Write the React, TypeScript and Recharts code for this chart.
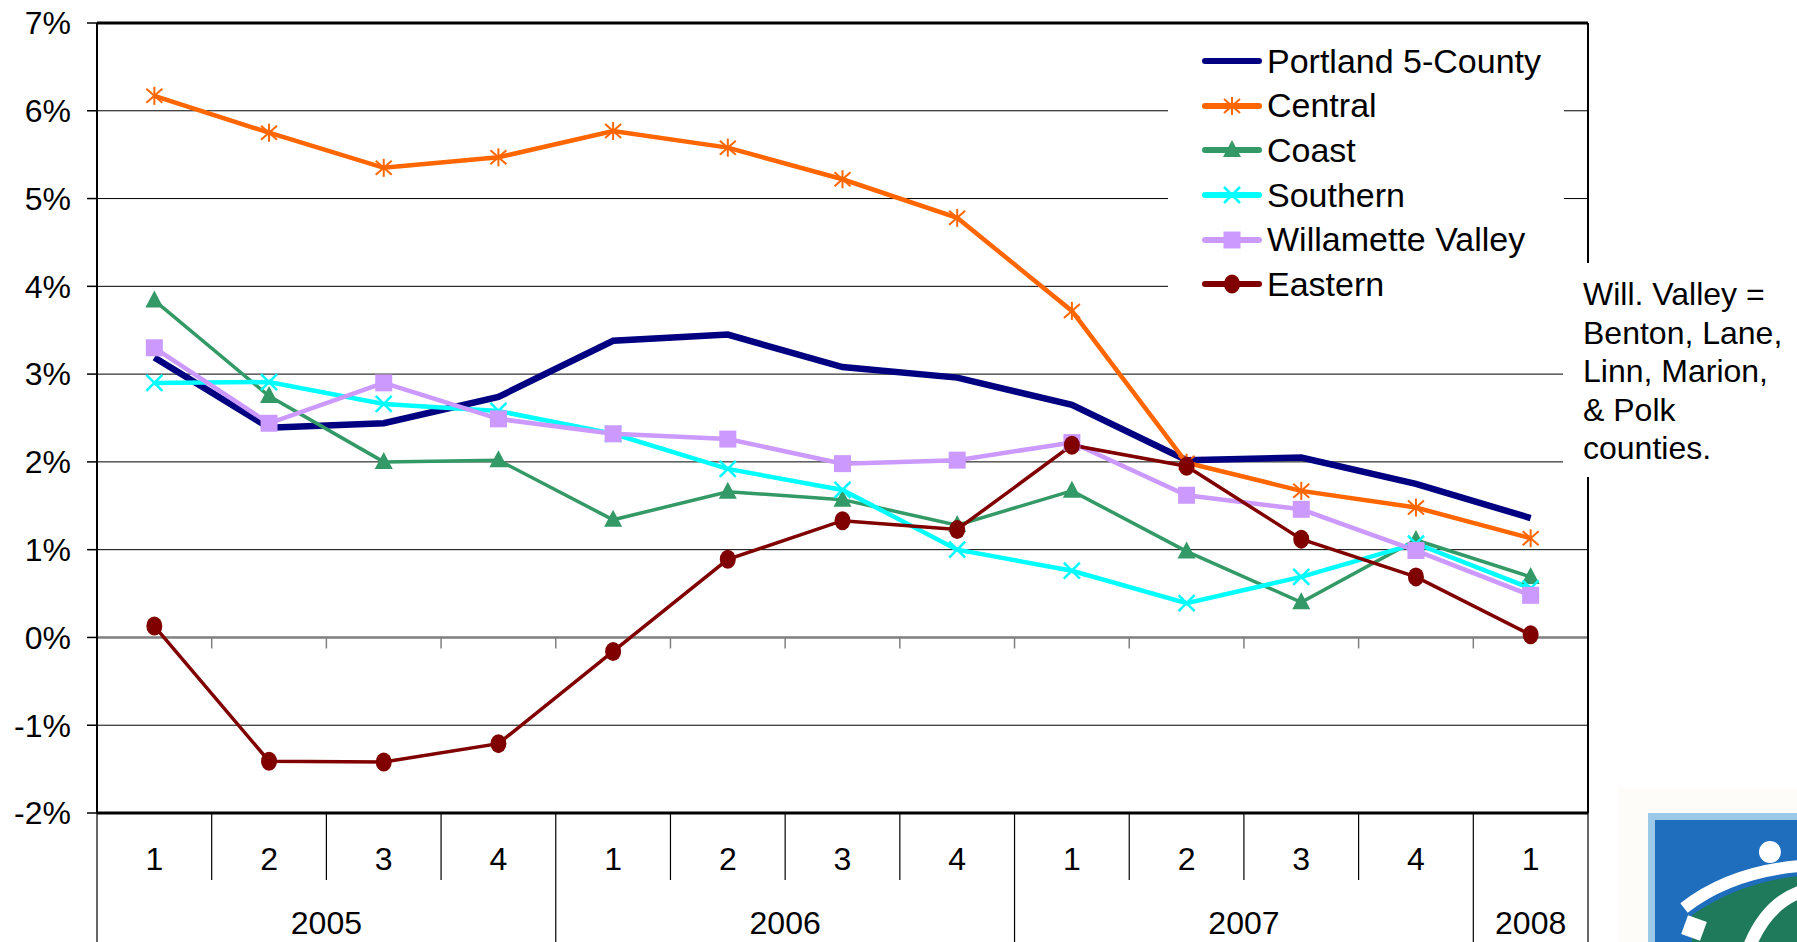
import React from 'react'
import {
  LineChart,
  Line,
  XAxis,
  YAxis,
  CartesianGrid,
  ReferenceLine,
  Legend,
} from 'recharts'

// quarters along the bottom, grouped under years
const QUARTERS = ['1', '2', '3', '4', '1', '2', '3', '4', '1', '2', '3', '4', '1']
const YEARS = ['2005', '2006', '2007', '2008']
const YEAR_SPANS = [4, 4, 4, 1]
const Y_TICKS = [-2, -1, 0, 1, 2, 3, 4, 5, 6, 7]

// year-over-year job growth, percent
const PORTLAND = [3.19, 2.39, 2.44, 2.74, 3.38, 3.45, 3.08, 2.96, 2.65, 2.02, 2.05, 1.75, 1.36]
const CENTRAL = [6.17, 5.75, 5.35, 5.47, 5.77, 5.58, 5.22, 4.78, 3.72, 1.99, 1.67, 1.48, 1.13]
const COAST = [3.84, 2.75, 2.0, 2.02, 1.34, 1.66, 1.57, 1.28, 1.67, 0.98, 0.4, 1.11, 0.69]
const SOUTHERN = [2.9, 2.91, 2.66, 2.58, 2.32, 1.92, 1.68, 1.0, 0.76, 0.39, 0.69, 1.07, 0.56]
const WILLAMETTE = [3.3, 2.44, 2.9, 2.49, 2.32, 2.26, 1.98, 2.02, 2.22, 1.62, 1.46, 0.99, 0.48]
const EASTERN = [0.13, -1.41, -1.42, -1.21, -0.16, 0.89, 1.33, 1.23, 2.19, 1.95, 1.12, 0.69, 0.03]

const FONT = "'Liberation Sans', Arial, sans-serif"
const W = 1797
const H = 942
const PLOT_LEFT = 97
const PLOT_RIGHT = 1588
const PLOT_TOP = 23
const AXIS_H = 129
const BAND = (PLOT_RIGHT - PLOT_LEFT) / QUARTERS.length

const yearOf: string[] = []
const YEAR_STARTS: number[] = []
YEARS.forEach((y, k) => {
  YEAR_STARTS.push(yearOf.length)
  for (let j = 0; j < YEAR_SPANS[k]; j++) yearOf.push(y)
})

const ids = QUARTERS.map((q, i) => `${yearOf[i]} Q${q}`)

const data = ids.map((id, i) => ({
  id,
  portland: PORTLAND[i],
  central: CENTRAL[i],
  coast: COAST[i],
  southern: SOUTHERN[i],
  willamette: WILLAMETTE[i],
  eastern: EASTERN[i],
}))

type Kind = 'none' | 'star' | 'triangle' | 'x' | 'square' | 'circle'

const SERIES: { key: string; name: string; color: string; width: number; marker: Kind }[] = [
  { key: 'portland', name: 'Portland 5-County', color: '#000080', width: 6.5, marker: 'none' },
  { key: 'central', name: 'Central', color: '#FF6600', width: 4.5, marker: 'star' },
  { key: 'coast', name: 'Coast', color: '#339966', width: 3.5, marker: 'triangle' },
  { key: 'southern', name: 'Southern', color: '#00FFFF', width: 4.5, marker: 'x' },
  { key: 'willamette', name: 'Willamette Valley', color: '#CC99FF', width: 4.5, marker: 'square' },
  { key: 'eastern', name: 'Eastern', color: '#800000', width: 3.5, marker: 'circle' },
]

function Marker({ kind, cx, cy, color }: { kind: Kind; cx: number; cy: number; color: string }) {
  if (kind === 'star')
    return (
      <g stroke={color} strokeWidth={2}>
        <line x1={cx} y1={cy - 9} x2={cx} y2={cy + 9} />
        <line x1={cx - 8} y1={cy - 7} x2={cx + 8} y2={cy + 7} />
        <line x1={cx - 8} y1={cy + 7} x2={cx + 8} y2={cy - 7} />
      </g>
    )
  if (kind === 'x')
    return (
      <g stroke={color} strokeWidth={2.5}>
        <line x1={cx - 8} y1={cy - 8} x2={cx + 8} y2={cy + 8} />
        <line x1={cx - 8} y1={cy + 8} x2={cx + 8} y2={cy - 8} />
      </g>
    )
  if (kind === 'triangle')
    return <polygon points={`${cx},${cy - 10} ${cx - 9},${cy + 7} ${cx + 9},${cy + 7}`} fill={color} />
  if (kind === 'square')
    return <rect x={cx - 8.5} y={cy - 8.5} width={17} height={17} fill={color} />
  if (kind === 'circle') return <ellipse cx={cx} cy={cy} rx={8} ry={9.5} fill={color} />
  return null
}

function CategoryTick(props: any) {
  const { x, y, payload } = props
  const i = ids.indexOf(payload.value)
  const startsYear = YEAR_STARTS.includes(i)
  const k = YEAR_STARTS.indexOf(i)
  const left = x - BAND / 2
  return (
    <g>
      <text
        x={x}
        y={y + 46}
        textAnchor="middle"
        dominantBaseline="central"
        fontSize={32}
        fontFamily={FONT}
        fill="#000"
      >
        {QUARTERS[i]}
      </text>
      <line x1={left} y1={y} x2={left} y2={startsYear ? H : y + 67} stroke="#000" strokeWidth={1.2} />
      {i === QUARTERS.length - 1 && (
        <line x1={x + BAND / 2} y1={y} x2={x + BAND / 2} y2={H} stroke="#000" strokeWidth={1.2} />
      )}
      {startsYear && (
        <text
          x={x + ((YEAR_SPANS[k] - 1) * BAND) / 2}
          y={y + 110}
          textAnchor="middle"
          dominantBaseline="central"
          fontSize={32}
          fontFamily={FONT}
          fill="#000"
        >
          {YEARS[k]}
        </text>
      )}
    </g>
  )
}

function ZeroAxis(props: any) {
  const { x1, y1, x2, y2 } = props
  return (
    <g>
      <line x1={x1} y1={y1} x2={x2} y2={y2} stroke="#808080" strokeWidth={2.5} />
      {QUARTERS.slice(1).map((_, k) => {
        const tx = x1 + (k + 1) * BAND
        return <line key={k} x1={tx} y1={y1} x2={tx} y2={y1 + 11} stroke="#808080" strokeWidth={1.5} />
      })}
    </g>
  )
}

// legend keeps the series order of the original chart
function LegendBox() {
  return (
    <div style={{ background: '#fff' }}>
      {SERIES.map((s) => (
        <div key={s.key} style={{ display: 'flex', alignItems: 'center', height: 44.6 }}>
          <svg width={62} height={44} style={{ marginLeft: 33, flex: 'none' }}>
            <line x1={4} y1={22} x2={58} y2={22} stroke={s.color} strokeWidth={6} strokeLinecap="round" />
            <Marker kind={s.marker} cx={31} cy={22} color={s.color} />
          </svg>
          <span style={{ fontFamily: FONT, fontSize: 34, color: '#000', marginLeft: 4, whiteSpace: 'nowrap' }}>
            {s.name}
          </span>
        </div>
      ))}
    </div>
  )
}

export default function App() {
  return (
    <div style={{ position: 'absolute', left: 0, top: 0, width: W, height: H, background: '#fff', overflow: 'hidden' }}>
      <LineChart
        width={W}
        height={H}
        data={data}
        margin={{ top: PLOT_TOP, right: W - PLOT_RIGHT - 1, bottom: 0, left: 0 }}
      >
        <CartesianGrid vertical={false} stroke="#000" strokeWidth={1} />
        <XAxis
          dataKey="id"
          interval={0}
          height={AXIS_H}
          padding={{ left: BAND / 2, right: BAND / 2 }}
          axisLine={false}
          tickLine={false}
          tickSize={0}
          tickMargin={0}
          tick={(p: any) => <CategoryTick {...p} />}
        />
        <YAxis
          domain={[-2, 7]}
          ticks={Y_TICKS}
          interval={0}
          width={PLOT_LEFT}
          tickFormatter={(v) => `${v}%`}
          tick={{ fill: '#000', fontSize: 32, fontFamily: FONT }}
          axisLine={{ stroke: '#000', strokeWidth: 2 }}
          tickLine={{ stroke: '#000', strokeWidth: 1.5 }}
          tickSize={10}
          tickMargin={16}
        />
        <YAxis
          yAxisId="r"
          orientation="right"
          domain={[-2, 7]}
          ticks={Y_TICKS}
          width={1}
          tick={false}
          tickLine={false}
          axisLine={{ stroke: '#000', strokeWidth: 2 }}
        />
        <ReferenceLine y={7} stroke="#000" strokeWidth={3} />
        <ReferenceLine y={-2} stroke="#000" strokeWidth={3} />
        <ReferenceLine y={0} shape={(p: any) => <ZeroAxis {...p} />} />
        <Legend
          layout="vertical"
          align="center"
          verticalAlign="middle"
          wrapperStyle={{ left: 1168, top: 39, width: 396, height: 268 }}
          content={() => <LegendBox />}
        />
        {SERIES.map((s) => (
          <Line
            key={s.key}
            type="linear"
            dataKey={s.key}
            name={s.name}
            stroke={s.color}
            strokeWidth={s.width}
            isAnimationActive={false}
            activeDot={false}
            dot={(p: any) => (
              <Marker key={`${s.key}-${p.index}`} kind={s.marker} cx={p.cx} cy={p.cy} color={s.color} />
            )}
          />
        ))}
      </LineChart>
      <div
        style={{
          position: 'absolute',
          left: 1563,
          top: 263,
          width: 234,
          height: 214,
          boxSizing: 'border-box',
          paddingLeft: 20,
          paddingTop: 12,
          background: '#fff',
          fontFamily: FONT,
          fontSize: 32,
          lineHeight: '38.5px',
          color: '#000',
        }}
      >
        Will. Valley =<br />
        Benton, Lane,<br />
        Linn, Marion,<br />
        &amp; Polk<br />
        counties.
      </div>
      <svg style={{ position: 'absolute', left: 1600, top: 780 }} width={197} height={162}>
        <rect x={18} y={8} width={180} height={160} fill="#fdfcf8" />
        <rect x={48} y={33} width={160} height={140} fill="#9cc9e8" />
        <rect x={55} y={40} width={150} height={130} fill="#1f6dbd" />
        <path d="M 92 135 Q 140 102 200 96 L 200 170 L 92 170 Z" fill="#1e7a5a" />
        <path d="M 84 128 Q 130 92 200 86" stroke="#fff" strokeWidth={12} fill="none" />
        <path d="M 148 170 Q 165 125 200 112" stroke="#fff" strokeWidth={13} fill="none" />
        <rect x={84} y={138} width={20} height={20} fill="#fff" transform="rotate(20 94 148)" />
        <circle cx={170} cy={72} r={11} fill="#fff" />
      </svg>
    </div>
  )
}
